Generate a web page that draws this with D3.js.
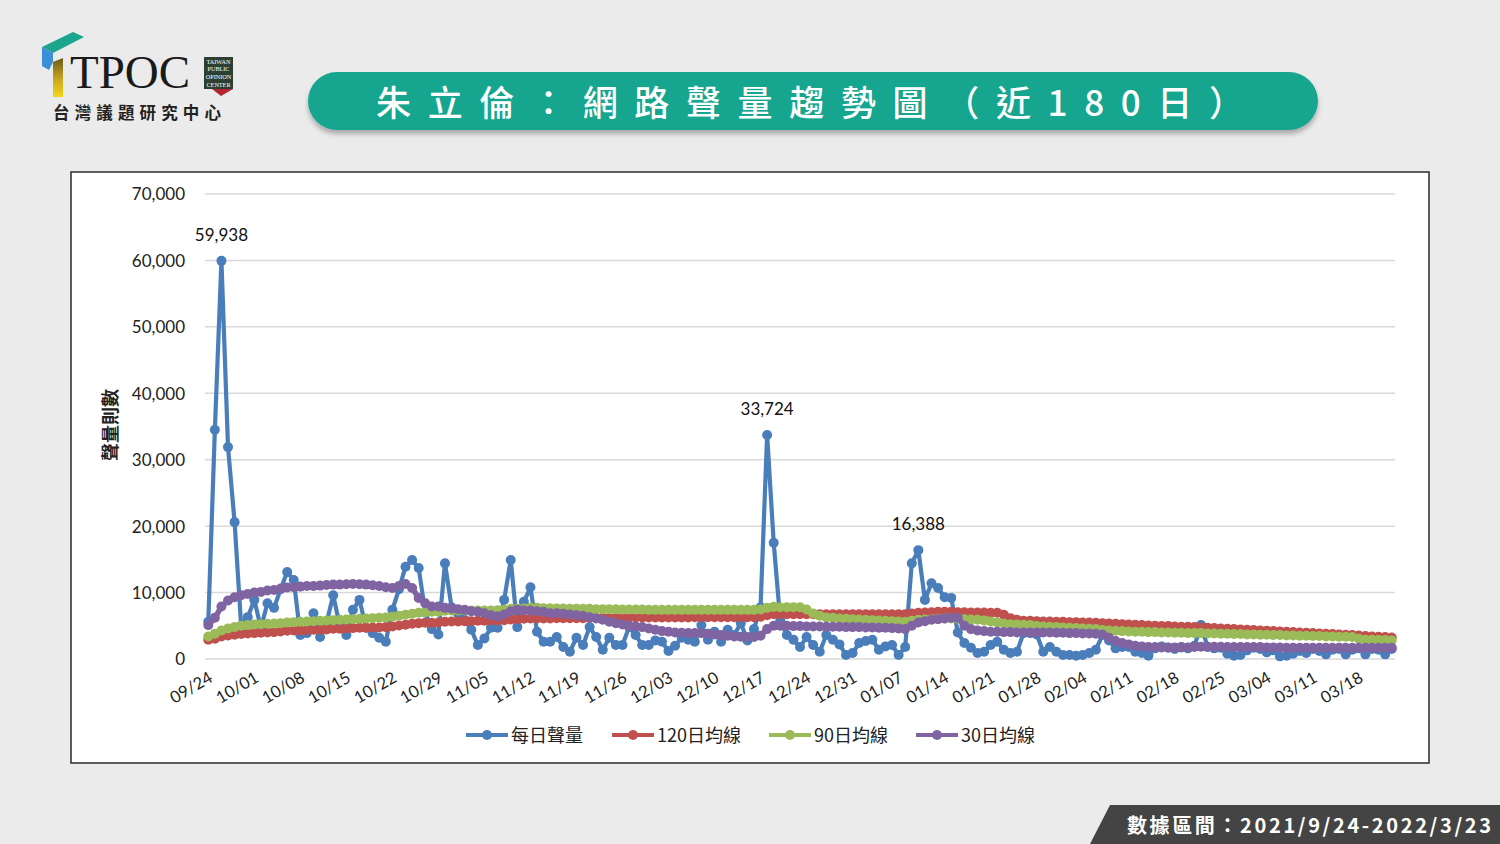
<!DOCTYPE html>
<html lang="zh-Hant">
<head>
<meta charset="UTF-8">
<title>朱立倫：網路聲量趨勢圖</title>
<script src="https://d3js.org/d3.v7.min.js"></script>
<style>
  html, body { margin: 0; padding: 0; background: #ebebeb; }
  svg { display: block; }
  .cjk { font-family: "Noto Sans CJK TC", "Noto Sans CJK SC", sans-serif; }
  .num { font-family: "Lato", "Noto Sans CJK TC", sans-serif; }
  .grid line { stroke: #d9d9d9; stroke-width: 1.5px; }
  .axis path { display: none; }
  .axis line { display: none; }
</style>
</head>
<body>
<svg width="1500" height="844"></svg>
<script>
// daily buzz volume, 2021/09/24 - 2022/03/23 (one value per day)
const daily = [
  5600,34500,59938,31900,20600,5000,6300,8900,4700,8400,
  7700,10500,13100,11900,3600,3900,6900,3300,5500,9600,
  5000,3600,7400,8900,4700,3900,3200,2600,7400,10500,
  13900,14900,13700,7000,4500,3700,14400,7800,6800,5900,
  4400,2100,3100,4700,4700,8900,14900,4800,8600,10800,
  4100,2600,2600,3300,1800,1100,3200,2100,4800,3300,
  1400,3200,2100,2100,4800,3600,2100,2100,2800,2600,
  1200,2000,3200,2900,2600,5100,2900,4100,2600,4400,
  3600,5400,2800,4500,7800,33724,17500,5800,3600,2900,
  1800,3300,2100,1100,3600,2900,2200,600,900,2400,
  2700,2900,1400,1900,2100,600,1800,14400,16388,8900,
  11400,10700,9300,9200,4000,2400,1700,900,1100,2100,
  2600,1400,900,1100,3900,3900,3700,1100,1800,1100,
  600,600,500,600,900,1400,3600,2800,1600,1800,
  1800,1100,900,500,1600,1900,1700,1500,1800,1600,
  2000,5100,1800,1600,1700,800,500,600,1300,1700,
  1500,1000,1300,400,500,800,1200,900,1500,1200,
  700,1400,1500,700,1400,1600,700,1500,1400,700,
  1500
];

const ma120 = [
  2900,3050,3400,3550,3650,3750,3850,3900,3950,4000,
  4050,4150,4250,4300,4300,4350,4400,4400,4450,4550,
  4550,4600,4650,4700,4700,4750,4750,4800,4900,5050,
  5150,5300,5400,5450,5450,5500,5600,5650,5650,5700,
  5700,5750,5750,5800,5800,5850,5950,6000,6050,6100,
  6100,6100,6100,6150,6150,6150,6150,6150,6200,6200,
  6200,6200,6200,6200,6250,6250,6250,6250,6250,6250,
  6250,6250,6250,6250,6300,6300,6300,6300,6300,6300,
  6300,6300,6300,6300,6350,6600,6750,6750,6750,6750,
  6750,6750,6750,6750,6750,6750,6750,6750,6750,6750,
  6750,6750,6750,6750,6750,6750,6750,6850,6950,7000,
  7050,7100,7100,7100,7050,7050,7000,7000,7000,6950,
  6950,6650,6150,5900,5750,5750,5700,5650,5650,5600,
  5600,5550,5550,5500,5500,5450,5400,5350,5300,5250,
  5200,5150,5100,5050,5000,4950,4950,4900,4850,4850,
  4800,4750,4700,4650,4600,4550,4500,4450,4400,4350,
  4300,4250,4200,4150,4100,4050,4000,3950,3900,3850,
  3800,3750,3700,3650,3600,3550,3450,3400,3350,3300,
  3250
];

const ma90 = [
  3400,3800,4300,4600,4800,5000,5100,5200,5250,5300,
  5350,5400,5500,5550,5600,5650,5700,5750,5800,5850,
  5900,5950,6000,6050,6100,6150,6200,6250,6350,6500,
  6650,6800,6950,7050,7100,7100,7250,7300,7300,7300,
  7300,7300,7300,7300,7350,7400,7550,7550,7600,7700,
  7700,7650,7650,7600,7600,7550,7550,7550,7550,7500,
  7500,7500,7500,7450,7450,7450,7450,7400,7400,7400,
  7400,7400,7400,7400,7400,7400,7400,7400,7400,7400,
  7400,7400,7400,7400,7450,7700,7850,7800,7800,7800,
  7800,7450,6850,6500,6250,6200,6100,6050,6000,5950,
  5900,5850,5800,5750,5700,5650,5600,5750,5900,5950,
  6000,6050,6100,6100,6050,6000,5950,5900,5800,5650,
  5500,5350,5250,5200,5150,5100,4950,4900,4850,4800,
  4750,4700,4650,4600,4550,4500,4350,4300,4250,4200,
  4150,4100,4100,4050,4050,4000,4000,3950,3950,3900,
  3900,3900,3850,3850,3800,3800,3750,3750,3700,3700,
  3650,3650,3600,3600,3550,3550,3500,3500,3450,3450,
  3400,3400,3350,3350,3300,3050,2900,2900,2850,2850,
  2800
];

const ma30 = [
  5100,6200,7900,8800,9300,9600,9800,10000,10100,10300,
  10400,10600,10750,10800,10900,11000,11000,11050,11150,11200,
  11200,11250,11300,11250,11200,11100,11000,10800,10700,11000,
  11300,10700,9200,8400,7900,7900,7700,7600,7500,7400,
  7200,7100,6900,6600,6400,6700,7200,7400,7300,7300,
  7200,7100,6900,6900,6800,6700,6600,6500,6300,6100,
  5900,5600,5400,5200,5000,4900,4800,4600,4400,4200,
  4100,4000,3950,3900,3900,3900,3800,3700,3600,3500,
  3400,3350,3300,3300,3500,4500,5000,5000,5000,4950,
  4950,4900,4900,4900,4850,4850,4850,4800,4800,4800,
  4750,4750,4700,4700,4650,4600,4500,5000,5500,5700,
  5900,6000,6100,6200,6200,5000,4500,4300,4200,4100,
  4100,4050,4050,4000,4000,4000,4000,4000,4000,3950,
  3950,3900,3900,3850,3850,3800,3700,3200,2700,2400,
  2200,2000,1900,1800,1800,1750,1750,1750,1750,1750,
  1800,1850,1850,1850,1850,1800,1800,1800,1800,1800,
  1800,1750,1750,1750,1700,1700,1700,1700,1700,1700,
  1700,1700,1700,1700,1700,1700,1700,1700,1700,1700,
  1700
];

const tickLabels = ["09/24","10/01","10/08","10/15","10/22","10/29","11/05","11/12",
  "11/19","11/26","12/03","12/10","12/17","12/24","12/31","01/07","01/14","01/21",
  "01/28","02/04","02/11","02/18","02/25","03/04","03/11","03/18"];
const yTicks = [0,10000,20000,30000,40000,50000,60000,70000];
const peakDays = [2, 85, 108];   // days that carry a value label

const seriesNames = ["每日聲量","120日均線","90日均線","30日均線"];
const seriesColors = ["#4a7ebb","#c0504d","#9bbb59","#8064a2"];
const seriesValues = [daily, ma120, ma90, ma30];

const svg = d3.select("svg");

// shadow filter for the title banner
const defs = svg.append("defs");
const f = defs.append("filter").attr("id", "shadow").attr("x", "-5%").attr("y", "-30%")
  .attr("width", "110%").attr("height", "170%");
f.append("feDropShadow").attr("dx", 0).attr("dy", 4).attr("stdDeviation", 2.5)
  .attr("flood-color", "#000").attr("flood-opacity", 0.28);
const yg = defs.append("linearGradient").attr("id", "ygrad").attr("x1", 0).attr("x2", 0).attr("y1", 0).attr("y2", 1);
yg.append("stop").attr("offset", "0%").attr("stop-color", "#6b5a1a");
yg.append("stop").attr("offset", "55%").attr("stop-color", "#c9a820");
yg.append("stop").attr("offset", "100%").attr("stop-color", "#f3d61b");

// ---- logo ----
const logo = svg.append("g");
logo.append("polygon").attr("points", "42,47 73,32 84,37 53,53").attr("fill", "#1aa58c");
logo.append("polygon").attr("points", "42,47 53,53 53,62 49,70 42,66").attr("fill", "#3b8fd6");
logo.append("polygon").attr("points", "53,62 63,58 63,97 53,97").attr("fill", "url(#ygrad)");
logo.append("text").attr("x", 70).attr("y", 88)
  .attr("font-family", "'Liberation Serif', 'DejaVu Serif', serif")
  .attr("font-size", 47).attr("fill", "#1a1a1a").text("TPOC");
logo.append("rect").attr("x", 204).attr("y", 57).attr("width", 29).attr("height", 32).attr("fill", "#2b3f33");
logo.append("polygon").attr("points", "212,89 233,89 221,96").attr("fill", "#b3262e");
["TAIWAN","PUBLIC","OPINION","CENTER"].forEach((t, i) => {
  logo.append("text").attr("x", 218.5).attr("y", 63.5 + i * 7.8).attr("text-anchor", "middle")
    .attr("font-family", "'Liberation Serif', serif").attr("font-size", 6.2)
    .attr("fill", "#fff").text(t);
});
logo.append("text").attr("class", "cjk").attr("x", 53).attr("y", 119)
  .attr("font-size", 16.5).attr("font-weight", 700).attr("fill", "#222")
  .attr("textLength", 168).attr("lengthAdjust", "spacing").text("台灣議題研究中心");

// ---- title banner ----
svg.append("rect").attr("x", 308).attr("y", 72).attr("width", 1010).attr("height", 58)
  .attr("rx", 29).attr("fill", "#16a58e").attr("filter", "url(#shadow)");
svg.append("text").attr("class", "cjk").attr("x", 376).attr("y", 116)
  .attr("font-size", 35).attr("font-weight", 500).attr("fill", "#fff")
  .attr("textLength", 868).attr("lengthAdjust", "spacing")
  .text("朱立倫：網路聲量趨勢圖（近180日）");

// ---- chart frame ----
svg.append("rect").attr("x", 71).attr("y", 172).attr("width", 1358).attr("height", 591)
  .attr("fill", "#fff").attr("stroke", "#2b2b2b").attr("stroke-width", 1.5);

const x = d3.scaleLinear().domain([-0.5, daily.length - 0.5]).range([205, 1395]);
const y = d3.scaleLinear().domain([0, 70000]).range([659, 194]);

svg.append("g").attr("class", "grid")
  .selectAll("line").data(yTicks).join("line")
  .attr("x1", 205).attr("x2", 1395)
  .attr("y1", d => y(d)).attr("y2", d => y(d));

const yAxis = svg.append("g").attr("class", "axis num")
  .attr("transform", "translate(188,0)")
  .call(d3.axisLeft(y).tickValues(yTicks).tickFormat(d3.format(",")).tickSize(0));
yAxis.selectAll("text").attr("font-size", 17).attr("fill", "#222").attr("dy", "0.35em");

svg.append("text").attr("class", "cjk")
  .attr("transform", "translate(117,425) rotate(-90)")
  .attr("text-anchor", "middle").attr("font-size", 18).attr("font-weight", 700).attr("fill", "#222")
  .text("聲量則數");

const xAxis = svg.append("g").attr("class", "axis num")
  .attr("transform", "translate(0,659)")
  .call(d3.axisBottom(x).tickValues(tickLabels.map((t, i) => i * 7))
    .tickFormat((d, i) => tickLabels[i]).tickSize(0));
xAxis.selectAll("text")
  .attr("font-size", 16.5).attr("fill", "#222")
  .attr("text-anchor", "end")
  .attr("dy", 0).attr("y", 0)
  .attr("transform", "translate(5,22) rotate(-30)");

// ---- series ----
const line = d3.line().x((d, i) => x(i)).y(d => y(d));
seriesValues.forEach((vals, s) => {
  const g = svg.append("g");
  g.append("path").datum(vals).attr("d", line)
    .attr("fill", "none").attr("stroke", seriesColors[s])
    .attr("stroke-width", s === 0 ? 4.2 : 5.5).attr("stroke-linejoin", "round");
  g.selectAll("circle").data(vals).join("circle")
    .attr("cx", (d, i) => x(i)).attr("cy", d => y(d))
    .attr("r", 5).attr("fill", seriesColors[s]);
});

svg.append("g").attr("class", "num").selectAll("text").data(peakDays).join("text")
  .attr("x", d => x(d)).attr("y", d => y(daily[d]) - 20)
  .attr("text-anchor", "middle").attr("font-size", 17).attr("fill", "#111")
  .text(d => d3.format(",")(daily[d]));

// ---- legend ----
const legendX = [466, 612, 769, 916];
const lg = svg.append("g").selectAll("g").data(seriesNames).join("g")
  .attr("transform", (d, i) => `translate(${legendX[i]},735)`);
lg.append("line").attr("x1", 0).attr("x2", 42).attr("y1", 0).attr("y2", 0)
  .attr("stroke", (d, i) => seriesColors[i]).attr("stroke-width", 4);
lg.append("circle").attr("cx", 21).attr("cy", 0).attr("r", 5).attr("fill", (d, i) => seriesColors[i]);
lg.append("text").attr("class", "cjk").attr("x", 45).attr("y", 7)
  .attr("font-size", 18).attr("fill", "#222").text(d => d);

// ---- date range ribbon ----
svg.append("polygon").attr("points", "1090,844 1110,805 1500,805 1500,844").attr("fill", "#444");
svg.append("text").attr("class", "cjk").attr("x", 1127).attr("y", 833)
  .attr("font-size", 20).attr("font-weight", 700).attr("fill", "#fff")
  .attr("textLength", 364).attr("lengthAdjust", "spacing")
  .text("數據區間：2021/9/24-2022/3/23");
</script>
</body>
</html>
